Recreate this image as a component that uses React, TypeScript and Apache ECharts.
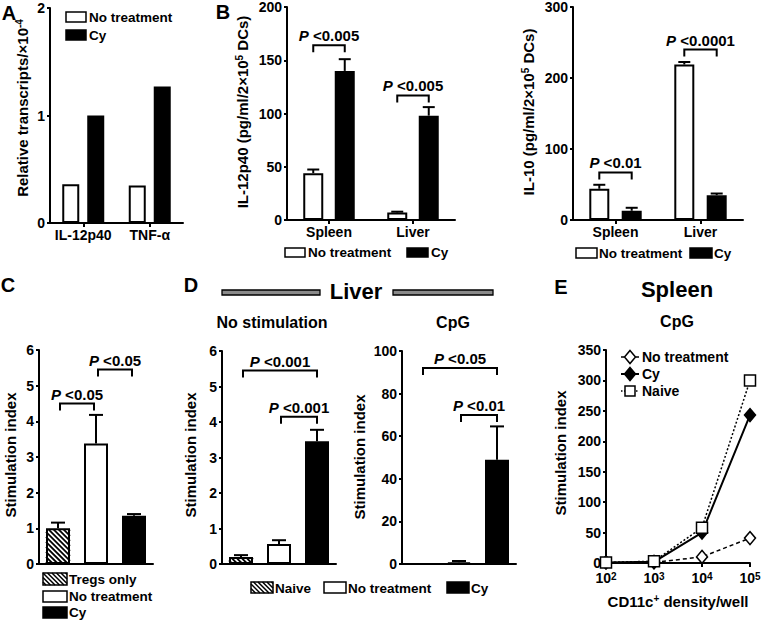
import React, { useEffect, useRef } from 'react';
import * as echarts from 'echarts';

const FONT = '"Liberation Sans", Arial, "DejaVu Sans", sans-serif';

// ---- Panel A: relative transcripts
const aCategories = ['IL-12p40', 'TNF-α'];
const aNoTreatment = [0.36, 0.35];
const aCy = [1.0, 1.27];

// ---- Panel B: IL-12p40
const il12Categories = ['Spleen', 'Liver'];
const il12NoTreatment = [44, 7];
const il12NoTreatmentErr = [3.4, 0.8];
const il12Cy = [140, 98];
const il12CyErr = [11, 8];
const il12PValues = ['<0.005', '<0.005'];
const il12BracketLevels = [164, 117];

// ---- Panel B: IL-10
const il10Categories = ['Spleen', 'Liver'];
const il10NoTreatment = [44, 219];
const il10NoTreatmentErr = [5.6, 3.5];
const il10Cy = [13, 35];
const il10CyErr = [4.2, 2.3];
const il10PValues = ['<0.01', '<0.0001'];
const il10BracketLevels = [67, 240];

// ---- Panel C
const cGroups = ['Tregs only', 'No treatment', 'Cy'];
const cValues = [1.0, 3.38, 1.35];
const cErr = [0.16, 0.8, 0.05];
const cBracketPairs = [[0, 1], [1, 2]];
const cBracketLevels = [4.5, 5.45];
const cPValues = ['<0.05', '<0.05'];

// ---- Panel D
const dGroups = ['Naive', 'No treatment', 'Cy'];
const dNoStim = [0.2, 0.56, 3.46];
const dNoStimErr = [0.05, 0.11, 0.32];
const dNoStimPairs = [[0, 2], [1, 2]];
const dNoStimLevels = [5.45, 4.15];
const dNoStimP = ['<0.001', '<0.001'];
const dCpG = [0, 0.8, 49];
const dCpGErr = [0, 0.6, 15.6];
const dCpGPairs = [[0, 2], [1, 2]];
const dCpGLevels = [92, 70];
const dCpGP = ['<0.05', '<0.01'];

// ---- Panel E
const eDensity = ['10²', '10³', '10⁴', '10⁵'];
const eNoTreatment = [1, 1, 10, 41];
const eCy = [1, 2, 50, 243];
const eNaive = [1, 3, 58, 300];

const SUP: Record<string, string> = { '²': '2', '³': '3', '⁴': '4', '⁵': '5' };

const WHITE = { color: '#fff', borderColor: '#000', borderWidth: 2 };
const BLACK = { color: '#000', borderColor: '#000', borderWidth: 2 };

const RICH = {
  i: { fontStyle: 'italic', fontWeight: 'bold', fontSize: 15, fontFamily: FONT, fill: '#000', color: '#000' },
  b: { fontWeight: 'bold', fontSize: 15, fontFamily: FONT, fill: '#000', color: '#000' },
};

function hatchLines(x: number, y: number, w: number, h: number, step: number, lw: number) {
  const out: any[] = [];
  for (let c = -w + 1.5; c < h; c += step) {
    const x0 = Math.max(0, -c), x1 = Math.min(w, h - c);
    if (x1 - x0 < 0.5) continue;
    out.push({ type: 'line', silent: true, shape: { x1: x + x0, y1: y + x0 + c, x2: x + x1, y2: y + x1 + c }, style: { stroke: '#000', lineWidth: lw } });
  }
  return out;
}

function yAxis(gridIndex: number, max: number, interval: number) {
  return {
    type: 'value', gridIndex, min: 0, max, interval,
    axisLine: { show: true, lineStyle: { color: '#000', width: 2 } },
    axisTick: { show: true, length: 3, lineStyle: { color: '#000', width: 2 } },
    axisLabel: { color: '#000', fontWeight: 'bold', fontSize: 14, fontFamily: FONT, margin: 5 },
    splitLine: { show: false },
  };
}

function xAxis(gridIndex: number, data: string[], showLabel: boolean, boundaryGap = true) {
  return {
    type: 'category', gridIndex, data, boundaryGap,
    axisLine: { show: true, lineStyle: { color: '#000', width: 2 } },
    axisTick: { show: showLabel, alignWithLabel: true, length: 4, lineStyle: { color: '#000', width: 2 } },
    axisLabel: { show: showLabel, color: '#000', fontWeight: 'bold', fontSize: 14, fontFamily: FONT, margin: 5, interval: 0 },
    splitLine: { show: false },
  };
}

function errorSeries(gi: number, values: number[], errs: number[], offset: number, capHalf: number) {
  return {
    type: 'custom', xAxisIndex: gi, yAxisIndex: gi, z: 5, silent: true, clip: false,
    data: values.map((v, i) => [i, v, v + errs[i]]),
    renderItem: (params: any, api: any) => {
      const i = api.value(0), v = api.value(1), t = api.value(2);
      if (!(t > v)) return { type: 'group', children: [] };
      const b = api.coord([i, v]);
      const top = api.coord([i, t]);
      const x = b[0] + offset;
      return {
        type: 'group', children: [
          { type: 'line', shape: { x1: x, y1: b[1], x2: x, y2: top[1] }, style: { stroke: '#000', lineWidth: 2 } },
          { type: 'line', shape: { x1: x - capHalf, y1: top[1], x2: x + capHalf, y2: top[1] }, style: { stroke: '#000', lineWidth: 2 } },
        ],
      };
    },
  };
}

// diagonal hatching drawn over the bar of the first group (Tregs only / Naive)
function hatchSeries(gi: number, values: number[], barWidth: number) {
  return {
    type: 'custom', xAxisIndex: gi, yAxisIndex: gi, z: 4, silent: true, clip: false,
    data: values.slice(0, 1).map((v, i) => [i, v]),
    renderItem: (params: any, api: any) => {
      const i = api.value(0), v = api.value(1);
      const top = api.coord([i, v]);
      const base = api.coord([i, 0]);
      const h = base[1] - top[1];
      if (h < 2) return { type: 'group', children: [] };
      const x = top[0] - barWidth / 2 + 1, w = barWidth - 2;
      return { type: 'group', children: hatchLines(x, top[1] + 1, w, h - 2, 5, 1.8) };
    },
  };
}

function bracketSeries(gi: number, pairs: number[][], levels: number[], labels: string[], offFrom: number, offTo: number) {
  return {
    type: 'custom', xAxisIndex: gi, yAxisIndex: gi, z: 6, silent: true, clip: false,
    data: pairs.map((p, k) => [p[0], levels[k], p[1]]),
    renderItem: (params: any, api: any) => {
      const a = api.coord([api.value(0), api.value(1)]);
      const b = api.coord([api.value(2), api.value(1)]);
      const x1 = a[0] + offFrom, x2 = b[0] + offTo, y = a[1];
      const leg = 7;
      return {
        type: 'group', children: [
          { type: 'polyline', shape: { points: [[x1, y + leg], [x1, y], [x2, y], [x2, y + leg]] }, style: { stroke: '#000', lineWidth: 2, fill: 'none' } },
          {
            type: 'text', x: (x1 + x2) / 2, y: y - 2,
            style: {
              text: `{i|P}{b| ${labels[params.dataIndex]}}`, rich: RICH,
              font: `bold 15px ${FONT}`, fill: '#000',
              align: 'center', verticalAlign: 'bottom', textAlign: 'center', textVerticalAlign: 'bottom',
            },
          },
        ],
      };
    },
  };
}

function supRich(size: number) {
  return {
    s: { fontSize: Math.round(size * 0.68), fontWeight: 'bold', fontFamily: FONT, fill: '#000', color: '#000', verticalAlign: 'top' },
    n: { fontSize: size, fontWeight: 'bold', fontFamily: FONT, fill: '#000', color: '#000' },
  };
}

function txt(x: number, y: number, text: string, size = 14, align = 'left', rich = false) {
  const style: any = {
    text, font: `bold ${size}px ${FONT}`, fontSize: size, fontWeight: 'bold', fontFamily: FONT,
    fill: '#000', align, verticalAlign: 'middle', textAlign: align, textVerticalAlign: 'middle',
  };
  if (rich) style.rich = supRich(size);
  return { type: 'text', x, y, silent: true, style };
}

function vtxt(x: number, y: number, text: string, size = 15) {
  return {
    type: 'text', x, y, rotation: Math.PI / 2, silent: true,
    style: {
      text, font: `bold ${size}px ${FONT}`, fontSize: size, fontWeight: 'bold', fontFamily: FONT,
      fill: '#000', align: 'center', verticalAlign: 'middle', textAlign: 'center', textVerticalAlign: 'middle',
      rich: supRich(size),
    },
  };
}

function box(x: number, y: number, w: number, h: number, kind: 'white' | 'black' | 'hatch') {
  const els: any[] = [{
    type: 'rect', shape: { x, y, width: w, height: h }, silent: true,
    style: { fill: kind === 'black' ? '#000' : '#fff', stroke: '#000', lineWidth: 1.5 },
  }];
  if (kind === 'hatch') els.push(...hatchLines(x, y, w, h, 4.5, 1.5));
  return els;
}

function lineLegend(y: number, label: string, dash: any, symbol: 'diamondOpen' | 'diamondFilled' | 'square', width: number) {
  const cx = 630;
  const els: any[] = [
    { type: 'line', silent: true, shape: { x1: 621, y1: y, x2: 639, y2: y }, style: { stroke: '#000', lineWidth: width, lineDash: dash } },
  ];
  if (symbol === 'square') {
    els.push({ type: 'rect', silent: true, shape: { x: cx - 5, y: y - 5, width: 10, height: 10 }, style: { fill: '#fff', stroke: '#000', lineWidth: 1.5 } });
  } else {
    els.push({
      type: 'polygon', silent: true,
      shape: { points: [[cx, y - 6.5], [cx + 5.5, y], [cx, y + 6.5], [cx - 5.5, y]] },
      style: { fill: symbol === 'diamondFilled' ? '#000' : '#fff', stroke: '#000', lineWidth: 1.5 },
    });
  }
  els.push(txt(642, y, label, 14));
  return els;
}

export default function App() {
  const ref = useRef<HTMLDivElement>(null);
  useEffect(() => {
    if (!ref.current) return;
    const chart = echarts.init(ref.current, null, { renderer: 'svg' });

    const aBW = 17, aGap = 0.47;
    const bBW = 20, bGap = 0.575, bOff = (bBW * (1 + bGap)) / 2;
    const iBW = 20, iGap = 0.62, iOff = (iBW * (1 + iGap)) / 2;
    const cBW = 24;

    const grids = [
      { left: 50, top: 8, width: 133, height: 215 },
      { left: 287, top: 7, width: 168, height: 213 },
      { left: 573, top: 7, width: 170, height: 213 },
      { left: 39, top: 350, width: 114, height: 214 },
      { left: 222, top: 351, width: 114, height: 213 },
      { left: 402, top: 351, width: 114, height: 213 },
      { left: 606, top: 350, width: 144, height: 213 },
    ].map((g) => ({ ...g, containLabel: false, outerBoundsMode: 'none' }));

    const LG = 13.5;
    const graphics: any[] = [
      // panel letters
      txt(9, 13, 'A', 20, 'center'),
      txt(223, 12, 'B', 20, 'center'),
      txt(8, 285, 'C', 20, 'center'),
      txt(191, 285, 'D', 20, 'center'),
      txt(561, 287, 'E', 20, 'center'),
      // titles
      txt(356, 291, 'Liver', 22, 'center'),
      { type: 'rect', silent: true, shape: { x: 222, y: 290, width: 98, height: 5 }, style: { fill: '#8a8a8a', stroke: '#000', lineWidth: 1.3 } },
      { type: 'rect', silent: true, shape: { x: 393, y: 290, width: 100, height: 5 }, style: { fill: '#8a8a8a', stroke: '#000', lineWidth: 1.3 } },
      txt(272, 322, 'No stimulation', 16, 'center'),
      txt(453, 322, 'CpG', 16, 'center'),
      txt(677, 289, 'Spleen', 22, 'center'),
      txt(677, 321, 'CpG', 16, 'center'),
      // y titles
      vtxt(22, 108, 'Relative transcripts/×10{s|-4}', 15),
      vtxt(242, 112, 'IL-12p40 (pg/ml/2×10{s|5} DCs)', 15),
      vtxt(528, 112, 'IL-10 (pg/ml/2×10{s|5} DCs)', 15),
      vtxt(10, 455, 'Stimulation index', 15),
      vtxt(190, 455, 'Stimulation index', 15),
      vtxt(359, 457, 'Stimulation index', 15),
      vtxt(560, 453, 'Stimulation index', 15),
      // E x title
      txt(678, 601, 'CD11c{s|+} density/well', 15, 'center', true),
      // legends A
      ...box(66, 12, 20, 10, 'white'), txt(89, 17, 'No treatment', LG),
      ...box(66, 30, 20, 10, 'black'), txt(89, 35, 'Cy', LG),
      // legend B
      ...box(285, 248, 20, 9, 'white'), txt(308, 252.5, 'No treatment', LG),
      ...box(407, 248, 21, 9, 'black'), txt(431, 252.5, 'Cy', LG),
      // legend IL-10
      ...box(576, 248, 21, 10, 'white'), txt(599, 253, 'No treatment', LG),
      ...box(690, 248, 22, 10, 'black'), txt(714, 253, 'Cy', LG),
      // legend C
      ...box(43, 573, 24, 12, 'hatch'), txt(69, 579, 'Tregs only', LG),
      ...box(43, 591, 24, 11, 'white'), txt(69, 596.5, 'No treatment', LG),
      ...box(43, 607, 24, 11, 'black'), txt(69, 612.5, 'Cy', LG),
      // legend D
      ...box(251, 582, 22, 11, 'hatch'), txt(275, 588, 'Naive', LG),
      ...box(324, 582, 22, 11, 'white'), txt(348, 588, 'No treatment', LG),
      ...box(447, 582, 22, 11, 'black'), txt(471, 588, 'Cy', LG),
      // legend E
      ...lineLegend(357, 'No treatment', [3, 2], 'diamondOpen', 1.5),
      ...lineLegend(374, 'Cy', null, 'diamondFilled', 2),
      ...lineLegend(391, 'Naive', [1.5, 1.5], 'square', 1.5),
    ];

    const eX: any = xAxis(6, eDensity, true, false);
    eX.axisLabel = {
      ...eX.axisLabel,
      margin: 8,
      formatter: (v: string) => `{n|${v.slice(0, -1)}}{s|${SUP[v.slice(-1)] ?? ''}}`,
      rich: supRich(14),
    };

    const option: any = {
      animation: false,
      backgroundColor: '#fff',
      textStyle: { fontFamily: FONT },
      grid: grids,
      xAxis: [
        xAxis(0, aCategories, true),
        xAxis(1, il12Categories, true),
        xAxis(2, il10Categories, true),
        xAxis(3, cGroups, false),
        xAxis(4, dGroups, false),
        xAxis(5, dGroups, false),
        eX,
      ],
      yAxis: [
        yAxis(0, 2, 1),
        yAxis(1, 200, 50),
        yAxis(2, 300, 100),
        yAxis(3, 6, 1),
        yAxis(4, 6, 1),
        yAxis(5, 100, 20),
        yAxis(6, 350, 50),
      ],
      series: [
        // A
        { type: 'bar', name: 'A No treatment', xAxisIndex: 0, yAxisIndex: 0, data: aNoTreatment, barWidth: aBW, barGap: `${aGap * 100}%`, itemStyle: WHITE },
        { type: 'bar', name: 'A Cy', xAxisIndex: 0, yAxisIndex: 0, data: aCy, barWidth: aBW, barGap: `${aGap * 100}%`, itemStyle: BLACK },
        // B IL-12p40
        { type: 'bar', name: 'B No treatment', xAxisIndex: 1, yAxisIndex: 1, data: il12NoTreatment, barWidth: bBW, barGap: `${bGap * 100}%`, itemStyle: WHITE },
        { type: 'bar', name: 'B Cy', xAxisIndex: 1, yAxisIndex: 1, data: il12Cy, barWidth: bBW, barGap: `${bGap * 100}%`, itemStyle: BLACK },
        errorSeries(1, il12NoTreatment, il12NoTreatmentErr, -bOff, 6),
        errorSeries(1, il12Cy, il12CyErr, bOff, 6),
        bracketSeries(1, [[0, 0], [1, 1]], il12BracketLevels, il12PValues, -bOff, bOff),
        // IL-10
        { type: 'bar', name: 'IL10 No treatment', xAxisIndex: 2, yAxisIndex: 2, data: il10NoTreatment, barWidth: iBW, barGap: `${iGap * 100}%`, itemStyle: WHITE },
        { type: 'bar', name: 'IL10 Cy', xAxisIndex: 2, yAxisIndex: 2, data: il10Cy, barWidth: iBW, barGap: `${iGap * 100}%`, itemStyle: BLACK },
        errorSeries(2, il10NoTreatment, il10NoTreatmentErr, -iOff, 6),
        errorSeries(2, il10Cy, il10CyErr, iOff, 6),
        bracketSeries(2, [[0, 0], [1, 1]], il10BracketLevels, il10PValues, -iOff, iOff),
        // C
        {
          type: 'bar', name: 'C', xAxisIndex: 3, yAxisIndex: 3, barWidth: cBW,
          data: cValues.map((v, i) => ({ value: v, itemStyle: [WHITE, WHITE, BLACK][i] })),
        },
        hatchSeries(3, cValues, cBW + 2),
        errorSeries(3, cValues, cErr, 0, 7),
        bracketSeries(3, cBracketPairs, cBracketLevels, cPValues, 2, -2),
        // D no stimulation
        {
          type: 'bar', name: 'D1', xAxisIndex: 4, yAxisIndex: 4, barWidth: cBW,
          data: dNoStim.map((v, i) => ({ value: v, itemStyle: [WHITE, WHITE, BLACK][i] })),
        },
        hatchSeries(4, dNoStim, cBW + 2),
        errorSeries(4, dNoStim, dNoStimErr, 0, 7),
        bracketSeries(4, dNoStimPairs, dNoStimLevels, dNoStimP, 2, 0),
        // D CpG
        {
          type: 'bar', name: 'D2', xAxisIndex: 5, yAxisIndex: 5, barWidth: cBW,
          data: dCpG.map((v, i) => ({ value: v, itemStyle: [WHITE, WHITE, BLACK][i] })),
        },
        hatchSeries(5, dCpG, cBW + 2),
        errorSeries(5, dCpG, dCpGErr, 0, 7),
        bracketSeries(5, dCpGPairs, dCpGLevels, dCpGP, 2, 0),
        // E
        {
          type: 'line', name: 'E No treatment', xAxisIndex: 6, yAxisIndex: 6, data: eNoTreatment, clip: false,
          symbol: 'diamond', symbolSize: [11, 13],
          itemStyle: { color: '#fff', borderColor: '#000', borderWidth: 1.5 },
          lineStyle: { color: '#000', width: 1.5, type: [4, 3] },
        },
        {
          type: 'line', name: 'E Cy', xAxisIndex: 6, yAxisIndex: 6, data: eCy, clip: false,
          symbol: 'diamond', symbolSize: [11, 13],
          itemStyle: { color: '#000', borderColor: '#000', borderWidth: 1.5 },
          lineStyle: { color: '#000', width: 2, type: 'solid' },
        },
        {
          type: 'line', name: 'E Naive', xAxisIndex: 6, yAxisIndex: 6, data: eNaive, clip: false,
          symbol: 'rect', symbolSize: 11,
          itemStyle: { color: '#fff', borderColor: '#000', borderWidth: 1.5 },
          lineStyle: { color: '#000', width: 1.5, type: [2, 2] },
        },
      ],
      graphic: { elements: graphics },
    };

    chart.setOption(option);
    return () => chart.dispose();
  }, []);

  return <div ref={ref} style={{ position: 'fixed', left: 0, top: 0, width: 761, height: 620, background: '#fff' }} />;
}
